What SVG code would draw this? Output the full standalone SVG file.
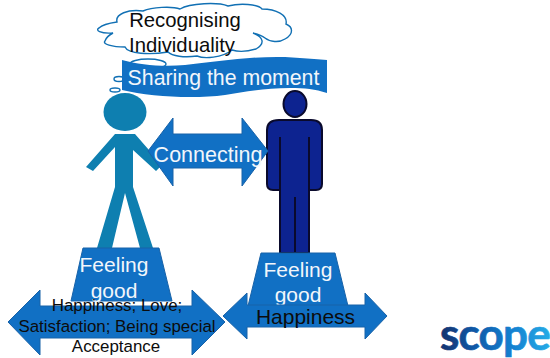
<svg xmlns="http://www.w3.org/2000/svg" width="550" height="358" viewBox="0 0 550 358">
<style>
.shape{fill:#1170c4;stroke:#1862a8;stroke-width:1}
.w{fill:#f2f6fb;font-family:"Liberation Sans",Arial,sans-serif;text-anchor:middle}
.k{fill:#0c0c0c;font-family:"Liberation Sans",Arial,sans-serif;text-anchor:middle}
.bub{fill:#fff;stroke:#1170b4;stroke-width:1.4}
.a{fill:#0e7fb0}
.d{fill:#0d2390;stroke:#0a0a2c;stroke-width:2}
</style>
<defs>
<linearGradient id="lg" gradientUnits="userSpaceOnUse" x1="441" y1="0" x2="549" y2="0">
<stop offset="0" stop-color="#14336f"/><stop offset="0.3" stop-color="#0f58a6"/><stop offset="0.65" stop-color="#1480d0"/><stop offset="1" stop-color="#25aae6"/>
</linearGradient>
</defs>
<g id="thought-cloud">
<ellipse class="bub" cx="119" cy="79" rx="5" ry="2.500"/>
<ellipse class="bub" cx="115" cy="90" rx="5" ry="2"/>
<ellipse class="bub" cx="148" cy="64" rx="18" ry="5"/>
<path class="bub" d="M117 22C115 14 128 9 143 11C152 7 172 6 180 9C190 3 218 2 228 6C240 3 258 4 262 9C276 9 288 15 286 24C293 27 294 34 285 39C279 43 270 42 265 38C261 35 257 34 253 33C264 37 265 44 256 49C246 52 238 52 232 50C222 58 204 59 197 56C184 58 172 56 168 52C150 55 128 54 125 47C112 47 102 44 105 41C106 38 109 35 113 33C100 34 95 30 99 28C102 25 110 23 117 22Z"/>
<text class="k" x="185" y="27" font-size="20.300">Recognising</text>
<text class="k" x="182" y="52" font-size="20.300">Individuality</text>
</g>
<g id="person-left">
<ellipse class="a" cx="125" cy="112" rx="21.500" ry="19"/>
<path class="a" d="M115 134H135L162 165L156 171L133 150V187L153 248H140L125 193L112 248H97L115 187V147L93 171L86 167Z"/>
</g>
<g id="person-right">
<ellipse class="d" cx="295" cy="104" rx="11.500" ry="13"/>
<path class="d" d="M279 120H311Q322 120 322 130V184Q322 190 316 190H309V253H280V190H273Q267 190 267 184V130Q267 120 279 120Z"/>
<path d="M280 137V190M309 137V190M295 197V253" fill="none" stroke="#0a0a2c" stroke-width="2"/>
</g>
<g id="banner">
<path d="M122 60C140 65 163 67 185 65C215 62 250 56 285 57C300 58 315 59 327 60V93C315 89 305 88 290 88C265 88 245 92 225 95C195 99 150 97 122 90Z" fill="#1170c4"/>
<text class="w" x="223.500" y="85" font-size="21.300">Sharing the moment</text>
</g>
<g id="connectors">
<path class="shape" d="M148 151L173 118V134H242V118L268 151L242 186V168H173V186Z"/>
<text class="w" x="208" y="162" font-size="21.500">Connecting</text>
</g>
<g id="pedestal-left">
<path class="shape" d="M83 248H159L172 301H71Z"/>
<text class="w" x="114" y="272" font-size="21">Feeling</text>
<text class="w" x="114" y="298" font-size="21">good</text>
</g>
<g id="pedestal-right">
<path class="shape" d="M261 253H335L348 306H248Z"/>
<text class="w" x="298" y="277" font-size="21">Feeling</text>
<text class="w" x="298" y="302" font-size="21">good</text>
</g>
<g id="arrow-left">
<path class="shape" d="M8 322L40 290V306H192V290L225 322L192 355V338H40V355Z"/>
<text class="k" x="117" y="311" font-size="16.900">Happiness; Love;</text>
<text class="k" x="117" y="332" font-size="16.900">Satisfaction; Being special</text>
<text class="k" x="116" y="352" font-size="16.900">Acceptance</text>
</g>
<g id="arrow-right">
<path class="shape" d="M223 316L247 293V305H365V293L387 316L365 339V327H247V339Z"/>
<text class="k" x="305.500" y="324" font-size="21">Happiness</text>
</g>
<g id="logo">
<text x="440" y="350" font-family="Lato,'Open Sans',sans-serif" font-weight="700" font-size="44" letter-spacing="-0.800" fill="url(#lg)" stroke="url(#lg)" stroke-width="0.700">scope</text>
</g>
</svg>
